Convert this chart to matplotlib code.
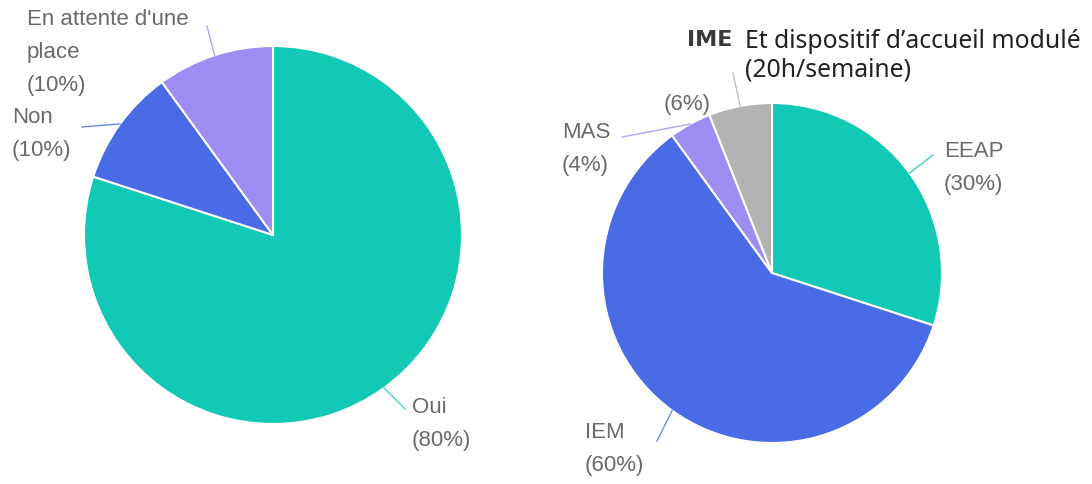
import numpy as np
import matplotlib
matplotlib.use("Agg")
import matplotlib.pyplot as plt

W, H = 1092, 484

# données
left_labels = ["Oui", "Non", "En attente d'une\nplace"]
left_pct = [80, 10, 10]
left_colors = ["#12C9B5", "#4A6BE6", "#9D8CF1"]

right_labels = ["EEAP", "IEM", "MAS", ""]
right_pct = [30, 60, 4, 6]
right_colors = ["#12C9B5", "#4A6BE6", "#9D8CF1", "#B3B3B3"]
ime_title = "IME"
ime_note = "Et dispositif d\u2019accueil modulé\n(20h/semaine)"

# mise en page (pixels image)
left_center, left_r = (273, 235), 189
right_center, right_r = (772, 273), 170
left_text_pos = [(412, 397), (12, 107), (27, 9)]
left_line_end = [(405, 409), (82, 127), (207, 26)]
right_text_pos = [(944, 141), (585, 422), (562, 122), (664, 94)]
right_line_end = [(933, 155), (657, 441), (622, 137), (733, 73)]

GRAY = "#6a6a6a"
LBL_FONT = dict(family=["Liberation Sans Narrow", "Liberation Sans"], size=16,
                color=GRAY, linespacing=1.76)

fig = plt.figure(figsize=(W / 100, H / 100), dpi=100)
ax = fig.add_axes([0, 0, 1, 1])


def py(y):
    return H - y


def draw_pie(vals, colors, center, r, labels, text_pos, line_end):
    cx, cy = center[0], py(center[1])
    ax.pie(vals, colors=colors, startangle=90, counterclock=False,
           center=(cx, cy), radius=r,
           wedgeprops=dict(edgecolor="white", linewidth=1.5))
    tot = float(sum(vals))
    cum = np.cumsum(vals)
    for i, v in enumerate(vals):
        th = np.deg2rad(360 * (cum[i] - v / 2) / tot)
        x0, y0 = cx + r * np.sin(th), cy + r * np.cos(th)
        x1, y1 = line_end[i]
        ax.plot([x0, x1], [y0, py(y1)], color=colors[i], lw=1, alpha=0.8)
        if labels[i]:
            s = f"{labels[i]}\n({v}%)"
        else:
            s = f"({v}%)"
        tx, ty = text_pos[i]
        ax.text(tx, py(ty), s, ha="left", va="top", **LBL_FONT)


draw_pie(left_pct, left_colors, left_center, left_r, left_labels,
         left_text_pos, left_line_end)
draw_pie(right_pct, right_colors, right_center, right_r, right_labels,
         right_text_pos, right_line_end)

ax.text(687, py(30), ime_title, ha="left", va="top", family="DejaVu Sans",
        fontweight="bold", size=16, color="#3a3a3a")
ax.text(745, py(29), ime_note, ha="left", va="top", family="Noto Sans",
        size=17.8, color="#222222", linespacing=1.2)

ax.set_xlim(0, W)
ax.set_ylim(0, H)
ax.set_aspect("equal")
ax.axis("off")

fig.savefig("out.png", dpi=100, facecolor="white")
